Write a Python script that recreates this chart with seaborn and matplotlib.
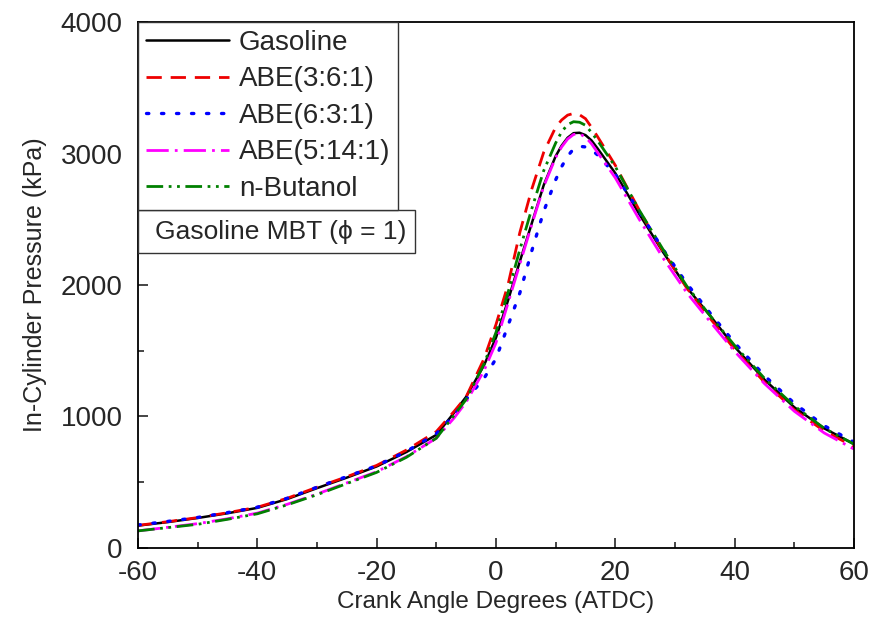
import matplotlib
matplotlib.use("Agg")
import matplotlib.pyplot as plt
import seaborn as sns
import numpy as np
from matplotlib.patches import Rectangle
from matplotlib.ticker import MultipleLocator

sns.set_style("ticks")
plt.rcParams['font.family'] = ['Liberation Sans', 'DejaVu Sans']
plt.rcParams['axes.unicode_minus'] = False

crank = [-60, -55, -50, -45, -40, -35, -30, -25, -20, -15, -10, -7, -5, -2, 0, 2, 4, 6, 8,
         10, 11, 12, 13, 14, 15, 16, 17, 20, 24, 28, 32, 36, 40, 45, 50, 55, 60]

gasoline = [170, 197, 228, 264, 305, 372, 455, 535, 620, 730, 860, 1030, 1150, 1390, 1600,
            1880, 2180, 2470, 2760, 2980, 3060, 3120, 3155, 3158, 3140, 3100, 3040, 2850,
            2540, 2250, 1980, 1760, 1530, 1280, 1070, 910, 790]
abe_361 = [172, 200, 231, 268, 310, 378, 462, 542, 628, 745, 885, 1040, 1150, 1440, 1700,
           2000, 2400, 2730, 3010, 3200, 3255, 3292, 3305, 3295, 3265, 3200, 3130, 2910,
           2570, 2255, 1975, 1740, 1510, 1260, 1050, 890, 770]
abe_631 = [175, 202, 232, 269, 310, 378, 462, 543, 625, 735, 870, 1010, 1130, 1290, 1440,
           1690, 1940, 2260, 2560, 2800, 2900, 2980, 3035, 3055, 3050, 3030, 2990, 2840,
           2560, 2270, 2010, 1780, 1560, 1310, 1100, 930, 805]
abe_5141 = [130, 157, 185, 222, 265, 332, 410, 495, 580, 695, 835, 990, 1110, 1350, 1560,
            1860, 2160, 2460, 2750, 2970, 3050, 3110, 3145, 3150, 3125, 3075, 3010, 2815,
            2500, 2205, 1940, 1715, 1495, 1250, 1040, 875, 752]
butanol = [130, 155, 180, 218, 260, 328, 405, 490, 575, 690, 835, 1010, 1130, 1400, 1640,
           1940, 2270, 2580, 2870, 3080, 3165, 3220, 3242, 3238, 3215, 3160, 3100, 2900,
           2570, 2270, 1990, 1760, 1540, 1290, 1080, 910, 790]

labels = ["Gasoline", "ABE(3:6:1)", "ABE(6:3:1)", "ABE(5:14:1)", "n-Butanol"]
series = [gasoline, abe_361, abe_631, abe_5141, butanol]
colors = ["black", "#ee0000", "#0000ff", "#ff00ff", "#008000"]
styles = [(None, 1.8), ((5.5, 3.2), 2.0), ((0.7, 3.8), 2.4), ((8, 2.2, 1, 2.2), 2.0),
          ((6, 2, 1, 2, 1, 2), 2.0)]

fig = plt.figure(figsize=(8.75, 6.3), dpi=100)
ax = fig.add_axes([0.1577, 0.1302, 0.8183, 0.8348])

for lab, ys, c, (dash, lw) in zip(labels, series, colors, styles):
    kw = {}
    if dash is not None:
        kw['dashes'] = dash
    sns.lineplot(x=crank, y=ys, ax=ax, color=c, lw=lw, label=lab, **kw)

for ln in ax.get_lines():
    if ln.get_color() == "#0000ff":
        ln.set_dash_capstyle('round')

ax.set_xlim(-60, 60)
ax.set_ylim(0, 4000)
ax.xaxis.set_major_locator(MultipleLocator(20))
ax.xaxis.set_minor_locator(MultipleLocator(10))
ax.yaxis.set_major_locator(MultipleLocator(1000))
ax.yaxis.set_minor_locator(MultipleLocator(500))
ax.tick_params(which='both', direction='in', top=False, right=False, labelsize=20, width=1.2)
ax.tick_params(which='major', length=7)
ax.tick_params(axis='x', which='major', pad=9)
ax.tick_params(axis='y', which='major', pad=11)
ax.tick_params(which='minor', length=4)
for s in ax.spines.values():
    s.set_linewidth(1.3)
    s.set_color('black')
    s.set_visible(True)

ax.set_xlabel("Crank Angle Degrees (ATDC)", fontsize=17.5, labelpad=3)
ax.set_ylabel("In-Cylinder Pressure (kPa)", fontsize=18, labelpad=10)

leg = ax.legend(loc='upper left', bbox_to_anchor=(0, 1), borderaxespad=0, fontsize=20,
                fancybox=False, framealpha=1, edgecolor='#333333', handlelength=3.0,
                handletextpad=0.35, labelspacing=0.38, borderpad=0.28)
leg.get_frame().set_linewidth(1.0)

ax.add_patch(Rectangle((0, 0.561), 0.387, 0.0815, transform=ax.transAxes,
                       facecolor='white', edgecolor='#333333', lw=1.0, zorder=5))
ax.text(0.024, 0.601, "Gasoline MBT (\u03d5 = 1)", transform=ax.transAxes, fontsize=19,
        va='center', ha='left', zorder=6, family=['Liberation Sans', 'DejaVu Sans'])

fig.savefig("out.png", dpi=100)
